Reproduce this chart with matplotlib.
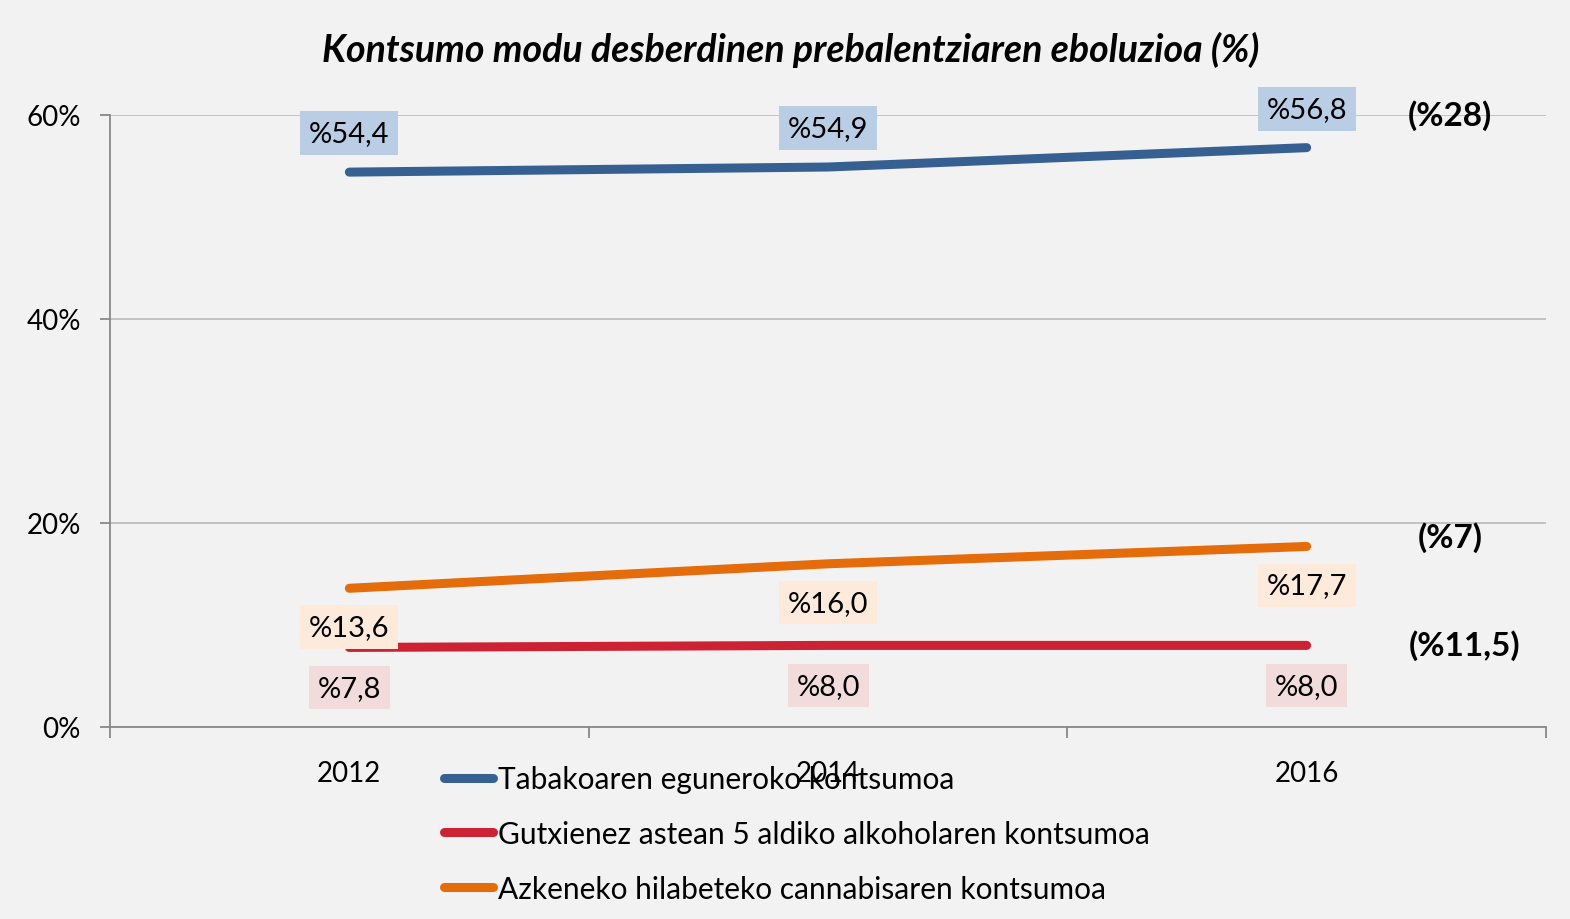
import matplotlib.pyplot as plt
from matplotlib.lines import Line2D

# --- data ---
years = ["2012", "2014", "2016"]
tabako = [54.4, 54.9, 56.8]
alkohol = [7.8, 8.0, 8.0]
cannabis = [13.6, 16.0, 17.7]
series_names = [
    "Tabakoaren eguneroko kontsumoa",
    "Gutxienez astean 5 aldiko alkoholaren kontsumoa",
    "Azkeneko hilabeteko cannabisaren kontsumoa",
]
side_notes = ["(%28)", "(%7)", "(%11,5)"]
side_note_x = [2.3, 2.3, 2.33]
side_note_y = [60.0, 18.7, 8.1]
y_ticks = [0, 20, 40, 60]

plt.rcParams['font.family'] = ['Lato', 'DejaVu Sans']

bg = '#F2F2F2'
c_blue, c_red, c_orange = '#376092', '#CC2233', '#E46C0A'
box_blue, box_red, box_orange = '#B9CDE5', '#F2DCDB', '#FDEADA'

fig = plt.figure(figsize=(15.7, 9.2), dpi=100, facecolor=bg)
ax = fig.add_axes([110/1570, 1 - 728/920, (1546-110)/1570, (728-116)/920])
ax.set_facecolor(bg)

x = list(range(len(years)))
lw = 6.5
ax.plot(x, tabako, color=c_blue, lw=lw, solid_capstyle='round', zorder=3)
ax.plot(x, alkohol, color=c_red, lw=lw, solid_capstyle='round', zorder=3)
ax.plot(x, cannabis, color=c_orange, lw=lw, solid_capstyle='round', zorder=3)

def fmt(v):
    return "%" + f"{v:.1f}".replace(".", ",")

def label_points(vals, dy, box):
    for xi, v in zip(x, vals):
        ax.annotate(fmt(v), (xi, v), xytext=(0, dy), textcoords='offset points',
                    ha='center', va='center', fontsize=21, color='black',
                    bbox=dict(boxstyle='square,pad=0.3', fc=box, ec='none'),
                    zorder=4)

label_points(tabako, 28, box_blue)
label_points(cannabis, -28, box_orange)
label_points(alkohol, -29, box_red)

for txt, xv, yv in zip(side_notes, side_note_x, side_note_y):
    ax.text(xv, yv, txt, ha='center', va='center', fontsize=24,
            fontweight='bold', zorder=4)

ax.set_xlim(-0.5, 2.5)
ax.set_ylim(0, 60)
ax.set_yticks(y_ticks)
ax.set_yticklabels([f"{t}%" for t in y_ticks])
ax.set_xticks(x)
ax.set_xticklabels(years)
ax.set_xticks([-0.5, 0.5, 1.5, 2.5], minor=True)
ax.tick_params(axis='x', which='major', length=0, pad=24, labelsize=20)
ax.tick_params(axis='x', which='minor', length=8, width=1.3, color='#888888', direction='out')
ax.tick_params(axis='y', length=7, width=1.3, color='#888888', pad=14, labelsize=20)
ax.yaxis.grid(True, color='#BFBFBF', lw=1.3)
ax.set_axisbelow(True)
for s in ['top', 'right']:
    ax.spines[s].set_visible(False)
for s in ['left', 'bottom']:
    ax.spines[s].set_color('#888888')
    ax.spines[s].set_linewidth(1.3)

handles = [Line2D([0], [0], color=c, lw=lw, solid_capstyle='round')
           for c in (c_blue, c_red, c_orange)]
leg = fig.legend(handles, series_names, loc='upper left',
                 bbox_to_anchor=(444/1570, 1 - 766/920), frameon=False,
                 fontsize=21.5, handlelength=1.65, handletextpad=0.15,
                 labelspacing=0.9, borderpad=0, borderaxespad=0)

fig.text(791/1570, 1 - 50/920, "Kontsumo modu desberdinen prebalentziaren eboluzioa (%)",
         ha='center', va='center', fontsize=27, fontweight='bold', style='italic')

fig.savefig('out.png', dpi=100, facecolor=bg)
